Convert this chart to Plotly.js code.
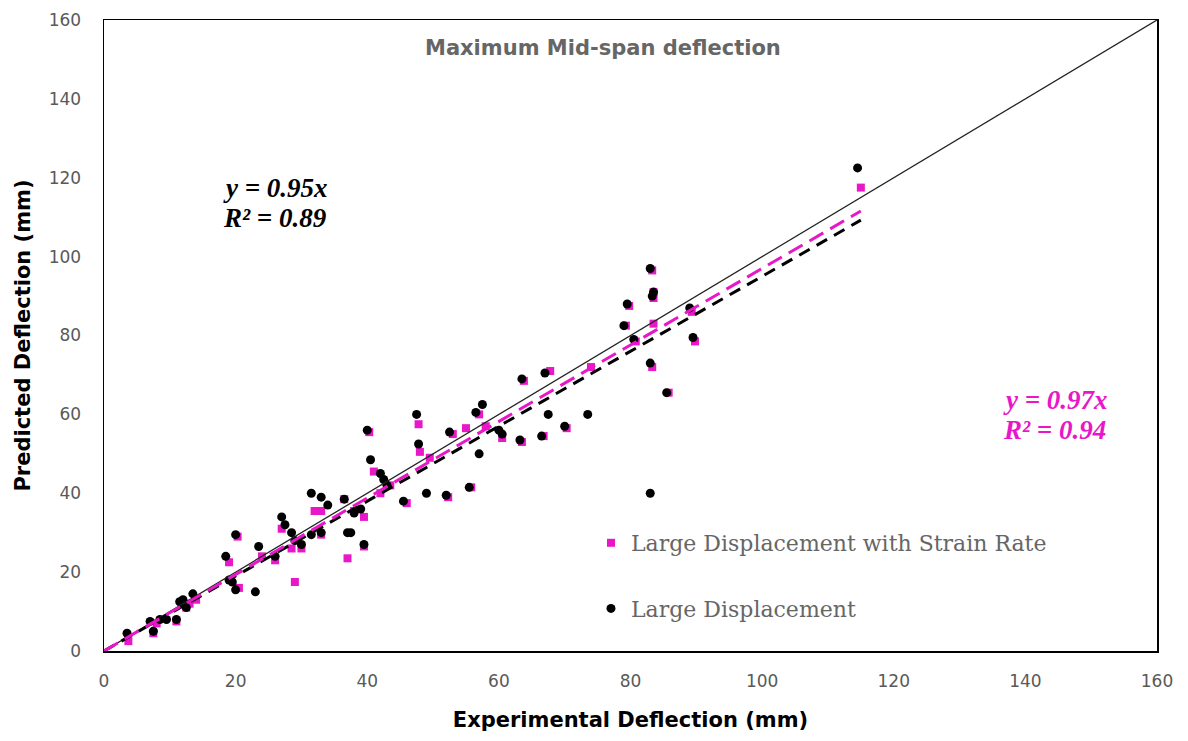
<!DOCTYPE html>
<html><head><meta charset="utf-8">
<script src="https://cdn.plot.ly/plotly-3.0.1.min.js"></script>
<style>html,body{margin:0;padding:0;background:#fff}#chart{width:1188px;height:741px}</style>
</head><body><div id="chart"></div>
<script>
// Large Displacement (black circles)
const ldX = [3.5,7,7.5,8.5,9.5,11,11.5,12,12.5,13.5,18.5,19,19.5,20,20,23,23.5,26,27,27.5,28.5,29,30,31.5,33,31.5,33,34,36.5,37,37.5,38,39,39.5,40,40.5,42,42.5,43,45.5,47.5,47.8,49,52,52.5,55.5,56.5,57.5,57,60,60.5,63.2,63.5,66.5,67,67.5,70,73.5,79,79.5,80.5,83,83,83,83.3,83.5,85.5,89,89.5,114.5];
const ldY = [4.5,7.5,5,8,8,8,12.5,13,11,14.5,24,18,17.5,15.5,29.5,15,26.5,24,34,32,30,28,27,40,39,29.5,30,37,38.5,30,30,35,36,27,56,48.5,45,43.5,42,38,60,52.5,40,39.5,55.5,41.5,60.5,62.5,50,56,55,53.5,69,54.5,70.5,60,57,60,82.5,88,79,97,73,40,90,91,65.5,87,79.5,122.5];
// Large Displacement with Strain Rate (magenta squares)
const srX = [3.7,7.5,8,11,12.5,13,14,19,20.5,20.3,24,26,27,29,28.5,30,32,33,33,36.5,37,38,39.5,39.5,40.3,41,42,43.5,46,47.8,48,49.5,52.3,53,55,55.8,57,58,60.5,63.5,63.8,66.8,67.8,70.3,74,79.3,79.8,80.8,83.3,83.3,83.5,83.5,83.5,85.8,89.3,89.8,115];
const srY = [2.5,4.5,7,7.5,11,12,13,22.5,16,29,24,23,31,17.5,26,26,35.5,35.5,29.5,38.5,23.5,35.5,34,26.5,55.5,45.5,40,42,37.5,57.5,50.5,49,39,55,56.5,41.5,60,57,54,53,68.5,54.5,71,56.5,72,82.5,87.5,78.5,96.5,72,89.5,91,83,65.5,86,78.5,117.5];
// Trend line slopes and x extent
const slopeLD = 0.95, slopeSR = 0.97;
const trendX = [0, 115];
const diagX = [0, 160];
const xTicks = [0,20,40,60,80,100,120,140,160];
const yTicks = [0,20,40,60,80,100,120,140,160];

const pink = '#E817C8';
const traces = [
  {x: srX, y: srY, type:'scatter', mode:'markers', name:'Large Displacement with Strain Rate',
   legendgroup:'a', marker:{symbol:'square', size:8, color:pink}},
  {x: ldX, y: ldY, type:'scatter', mode:'markers', name:'Large Displacement',
   legendgroup:'b', marker:{symbol:'circle', size:9, color:'#000'}},
  {x: diagX, y: diagX, type:'scatter', mode:'lines', showlegend:false, hoverinfo:'skip',
   line:{color:'#222', width:1.3}},
  {x: trendX, y: trendX.map(v=>v*slopeLD), type:'scatter', mode:'lines', showlegend:false,
   line:{color:'#000', width:3, dash:'12px,8px'}},
  {x: trendX, y: trendX.map(v=>v*slopeSR), type:'scatter', mode:'lines', showlegend:false,
   line:{color:pink, width:3, dash:'16px,8px'}}
];

const sans = '"DejaVu Sans", Verdana, sans-serif';
const eqFont = {family:'"Liberation Serif","Times New Roman",serif', size:27};
const px = v => (v-104)/1053, py = v => (651-v)/631;
const layout = {
  width:1188, height:741,
  margin:{l:104, r:31, t:20, b:90},
  paper_bgcolor:'#fff', plot_bgcolor:'#fff',
  showlegend:true,
  legend:{x:px(591), y:py(576), xanchor:'left', yanchor:'middle', bgcolor:'rgba(0,0,0,0)',
    font:{family:'"DejaVu Serif","Liberation Serif",serif', size:22, color:'#666'},
    tracegroupgap:34, itemwidth:30},
  xaxis:{range:[0,160], tickvals:xTicks, showgrid:false, zeroline:false,
    showline:true, linecolor:'#000', linewidth:1.5, mirror:true,
    ticks:'outside', ticklen:14, tickcolor:'rgba(0,0,0,0)',
    tickfont:{family:sans, size:17, color:'#595959'},
    title:{text:'<b>Experimental Deflection (mm)</b>', standoff:22,
      font:{family:sans, size:21, color:'#000'}}},
  yaxis:{range:[0,160], tickvals:yTicks, showgrid:false, zeroline:false,
    showline:true, linecolor:'#000', linewidth:1.5, mirror:true,
    ticks:'outside', ticklen:18, tickcolor:'rgba(0,0,0,0)',
    tickfont:{family:sans, size:17, color:'#595959'},
    title:{text:'<b>Predicted Deflection (mm)</b>', standoff:12,
      font:{family:sans, size:21, color:'#000'}}},
  annotations:[
    {xref:'paper', yref:'paper', x:px(603), y:py(48), yanchor:'middle', text:'<b>Maximum Mid-span deflection</b>',
     showarrow:false, font:{family:sans, size:21, color:'#666'}},
    {xref:'paper', yref:'paper', x:px(221), y:py(188), xanchor:'left', yanchor:'middle',
     text:'<b><i>y = 0.95x</i></b>', showarrow:false, font:Object.assign({color:'#000'}, eqFont)},
    {xref:'paper', yref:'paper', x:px(221), y:py(218), xanchor:'left', yanchor:'middle',
     text:'<b><i>R² = 0.89</i></b>', showarrow:false, font:Object.assign({color:'#000'}, eqFont)},
    {xref:'paper', yref:'paper', x:px(1001), y:py(400), xanchor:'left', yanchor:'middle',
     text:'<b><i>y = 0.97x</i></b>', showarrow:false, font:Object.assign({color:pink}, eqFont)},
    {xref:'paper', yref:'paper', x:px(1001), y:py(430), xanchor:'left', yanchor:'middle',
     text:'<b><i>R² = 0.94</i></b>', showarrow:false, font:Object.assign({color:pink}, eqFont)}
  ]
};
Plotly.newPlot('chart', traces, layout, {displayModeBar:false, staticPlot:true});
</script></body></html>
